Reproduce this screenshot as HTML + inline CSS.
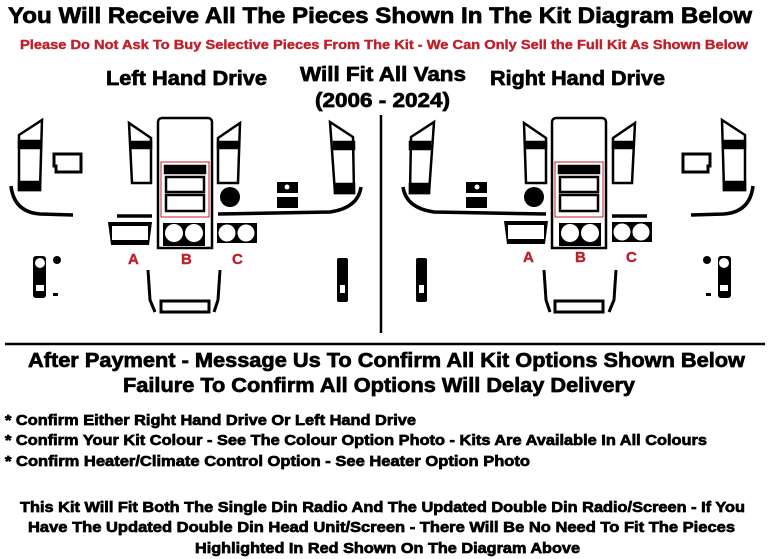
<!DOCTYPE html>
<html><head><meta charset="utf-8"><style>
html,body{margin:0;padding:0;background:#fff;width:768px;height:559px;overflow:hidden}
svg{display:block}
text{font-family:"Liberation Sans",Arial,sans-serif;font-weight:bold}
.t{stroke:#000;stroke-width:0.7}
.r{stroke:#c0202a;stroke-width:0.4}
</style></head><body>
<svg width="768" height="559" viewBox="0 0 768 559" xmlns="http://www.w3.org/2000/svg">
<text class="t" x="8" y="23" font-size="22" textLength="744" lengthAdjust="spacingAndGlyphs">You Will Receive All The Pieces Shown In The Kit Diagram Below</text>
<text class="r" x="20" y="49" font-size="13" fill="#c0202a" textLength="728" lengthAdjust="spacingAndGlyphs">Please Do Not Ask To Buy Selective Pieces From The Kit - We Can Only Sell the Full Kit As Shown Below</text>
<text class="t" x="106" y="85" font-size="20" textLength="161" lengthAdjust="spacingAndGlyphs">Left Hand Drive</text>
<text class="t" x="300" y="81" font-size="20" textLength="166" lengthAdjust="spacingAndGlyphs">Will Fit All Vans</text>
<text class="t" x="315" y="107" font-size="20" textLength="135" lengthAdjust="spacingAndGlyphs">(2006 - 2024)</text>
<text class="t" x="490" y="85" font-size="20" textLength="175" lengthAdjust="spacingAndGlyphs">Right Hand Drive</text>
<line x1="381" y1="115" x2="381" y2="333" stroke="#000" stroke-width="2.5"/>

<defs>
<g id="half" fill="none" stroke="#000" stroke-width="2.5">
  <path d="M19,135 L42,120 L40,190 L19,190 Z"/>
  <rect x="19" y="141" width="22" height="7" fill="#000"/>
  <rect x="19" y="182" width="21" height="8" fill="#000"/>
  <path d="M54,154 h27 v18 h-25 v-6 h-2 z" stroke-width="3"/>
  <path d="M11,186 Q14,212 40,214 L73,215" stroke-width="3.5"/>
  <path d="M129,123 L151,138 L151,183 L132,183 Z"/>
  <rect x="131" y="142" width="20" height="6" fill="#000"/>
  <path d="M162,118 h46 a4,4 0 0 1 4,4 v126 h-54 v-126 a4,4 0 0 1 4,-4 z"/>
  <rect x="161" y="162" width="48" height="55" stroke="#c0202a" stroke-width="1"/>
  <rect x="165" y="166" width="40" height="7" fill="#000"/>
  <rect x="166" y="177" width="38" height="15"/>
  <rect x="166" y="195" width="38" height="16"/>
  <rect x="163" y="223" width="42" height="23" fill="#000" stroke="none"/>
  <circle cx="174" cy="233" r="9" fill="#fff" stroke="none"/>
  <circle cx="194" cy="233" r="9" fill="#fff" stroke="none"/>
  <path d="M240,123 L218,138 L218,183 L238,183 Z"/>
  <rect x="218" y="142" width="20" height="6" fill="#000"/>
  <circle cx="230" cy="197" r="10" fill="#000" stroke="none"/>
  <path d="M218,214 L330,212 Q358,208 361,187" stroke-width="3.5"/>
  <rect x="277" y="182" width="21" height="11" fill="#000" stroke="none"/>
  <circle cx="287" cy="187" r="2.5" fill="#fff" stroke="none"/>
  <rect x="277" y="197" width="21" height="11" fill="#000" stroke="none"/>
  <path d="M330,122 L353,137 L354,193 L335,193 Z"/>
  <rect x="334" y="142" width="20" height="7" fill="#000"/>
  <rect x="335" y="184" width="19" height="9" fill="#000"/>
  <path d="M117,216 L152,216" stroke-width="3.5"/>
  <rect x="33" y="256" width="13" height="42" rx="3" fill="#000" stroke="none"/>
  <circle cx="40" cy="263" r="5" fill="#fff" stroke="none"/>
  <rect x="36" y="285" width="8" height="6" fill="#fff" stroke="none"/>
  <circle cx="57" cy="260" r="4" fill="#000" stroke="none"/>
  <rect x="53" y="293" width="5" height="3" fill="#000" stroke="none"/>
  <path d="M148,270 L150,300 L155,312 M220,270 L218,300 L214,312" stroke-width="3"/>
  <rect x="161" y="301" width="48" height="11" stroke-width="3"/>
  <rect x="337" y="258" width="11" height="44" rx="2" fill="#000" stroke="none"/>
  <rect x="340" y="285" width="5" height="8" fill="#fff" stroke="none"/>
</g>
<g id="circ">
  <rect x="0" y="0" width="40" height="20" fill="#000"/>
  <circle cx="10" cy="10" r="8.5" fill="#fff"/>
  <circle cx="29" cy="10" r="8.5" fill="#fff"/>
</g>
<g id="rectA">
  <path d="M0,0 h44 l-3,23 h-38 z" fill="#000"/>
  <rect x="4" y="4" width="36" height="14" fill="#fff"/>
</g>
</defs>

<use href="#half"/>
<use href="#half" transform="translate(764,0) scale(-1,1)"/>
<use href="#rectA" x="108" y="222"/>
<use href="#circ" x="217" y="223"/>
<use href="#rectA" x="504" y="221"/>
<use href="#circ" x="612" y="222"/>

<g fill="#c0202a" font-size="15" class="r">
<text x="128" y="264">A</text><text x="181" y="264">B</text><text x="232" y="264">C</text>
<text x="523" y="262">A</text><text x="575" y="262">B</text><text x="626" y="262">C</text>
</g>

<line x1="5" y1="344" x2="765" y2="344" stroke="#000" stroke-width="2.5"/>
<g class="t">
<text x="28" y="367" font-size="20" textLength="717" lengthAdjust="spacingAndGlyphs">After Payment - Message Us To Confirm All Kit Options Shown Below</text>
<text x="123" y="392" font-size="20" textLength="512" lengthAdjust="spacingAndGlyphs">Failure To Confirm All Options Will Delay Delivery</text>
<text x="5" y="425" font-size="15" textLength="411" lengthAdjust="spacingAndGlyphs">* Confirm Either Right Hand Drive Or Left Hand Drive</text>
<text x="5" y="445" font-size="15" textLength="702" lengthAdjust="spacingAndGlyphs">* Confirm Your Kit Colour - See The Colour Option Photo - Kits Are Available In All Colours</text>
<text x="5" y="466" font-size="15" textLength="525" lengthAdjust="spacingAndGlyphs">* Confirm Heater/Climate Control Option  - See Heater Option Photo</text>
<text x="20" y="512" font-size="15" textLength="725" lengthAdjust="spacingAndGlyphs">This Kit Will Fit Both The Single Din Radio And The Updated Double Din Radio/Screen - If You</text>
<text x="28" y="532" font-size="15" textLength="707" lengthAdjust="spacingAndGlyphs">Have The Updated Double Din Head Unit/Screen - There Will Be No Need To Fit The Pieces</text>
<text x="195" y="553" font-size="15" textLength="385" lengthAdjust="spacingAndGlyphs">Highlighted In Red Shown On The Diagram Above</text>
</g>
</svg>
</body></html>
